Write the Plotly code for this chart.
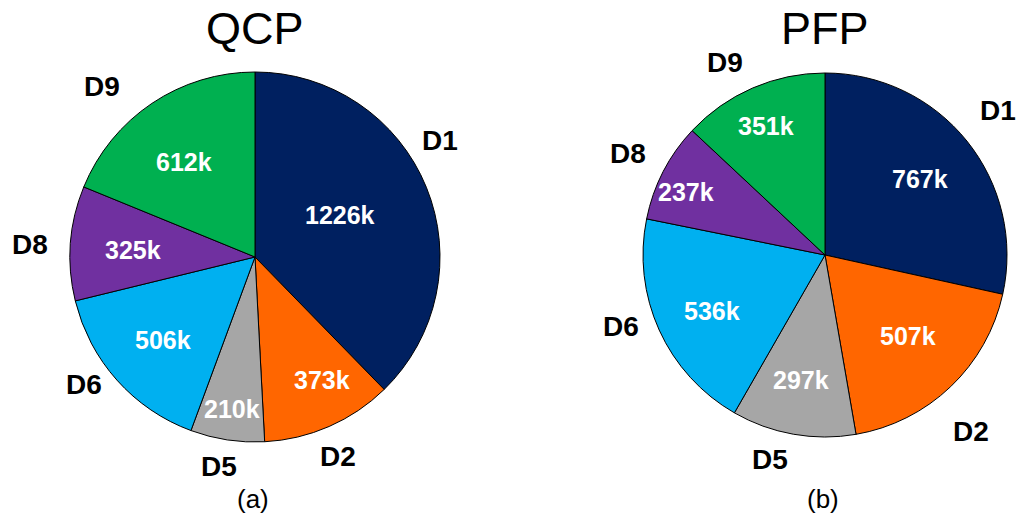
import math
import plotly.graph_objects as go

labels = ["D1", "D2", "D5", "D6", "D8", "D9"]
qcp_values = [1226, 373, 210, 506, 325, 612]
pfp_values = [767, 507, 297, 536, 237, 351]
colors = ["#002060", "#FF6600", "#A6A6A6", "#00B0F0", "#7030A0", "#00B050"]
titles = ["QCP", "PFP"]
captions = ["(a)", "(b)"]

# ---- styling / placement (not data) ----
W, H = 1018, 519
OFF = 0  # page body margin removed by post_script below
FW, FH = W - OFF, H - OFF
FONT = "Liberation Sans, Arial, sans-serif"

# pie geometry in page pixels: (cx, cy, r)
geoms = [(255, 257, 185), (825, 255, 182)]
# outside-label placement: (radius factor, angle offset from slice middle in degrees)
label_place = [
    [(1.18, -10), (1.17, 1), (1.15, 1), (1.15, 5), (1.22, -1), (1.24, -8)],
    [(1.24, -1), (1.26, 4), (1.165, 5), (1.19, 5), (1.22, 0), (1.19, -4)],
]
# inside value placement: (radius factor, angle offset)
value_place = [
    [(0.51, -4), (0.76, -5), (0.83, 0), (0.67, 0), (0.66, -1), (0.64, -3)],
    [(0.67, 0), (0.64, -2), (0.70, 1), (0.69, -2), (0.84, -3), (0.78, -1)],
]


def px2paper(x, y):
    return (x - OFF) / FW, 1 - (y - OFF) / FH


fig = go.Figure()
annotations = []
for i, (vals, (cx, cy, r)) in enumerate(zip([qcp_values, pfp_values], geoms)):
    x0, y1 = px2paper(cx - r, cy - r)
    x1, y0 = px2paper(cx + r, cy + r)
    fig.add_trace(go.Pie(
        labels=labels, values=vals, sort=False, direction="clockwise", rotation=0,
        marker=dict(colors=colors, line=dict(color="black", width=1)),
        textinfo="none",
        domain=dict(x=[x0, x1], y=[y0, y1]), showlegend=False,
        hovertemplate="%{label}: %{value}k<extra></extra>",
    ))
    total = sum(vals)
    cum = 0
    for j, (lab, v) in enumerate(zip(labels, vals)):
        mid = (cum + v / 2) / total * 360
        cum += v
        f, da = label_place[i][j]
        a = math.radians(mid + da)
        ax, ay = px2paper(cx + f * r * math.sin(a), cy - f * r * math.cos(a))
        annotations.append(dict(x=ax, y=ay, xref="paper", yref="paper",
                                text="<b>%s</b>" % lab, showarrow=False,
                                font=dict(family=FONT, size=28, color="black"),
                                xanchor="center", yanchor="middle"))
        f, da = value_place[i][j]
        a = math.radians(mid + da)
        ax, ay = px2paper(cx + f * r * math.sin(a), cy - f * r * math.cos(a))
        annotations.append(dict(x=ax, y=ay, xref="paper", yref="paper",
                                text="<b>%dk</b>" % v, showarrow=False,
                                font=dict(family=FONT, size=25, color="white"),
                                xanchor="center", yanchor="middle"))
    tx, ty = px2paper(cx, 29)
    annotations.append(dict(x=tx, y=ty, xref="paper", yref="paper",
                            text=titles[i], showarrow=False,
                            font=dict(family=FONT, size=45, color="black"),
                            xanchor="center", yanchor="middle"))
    tx, ty = px2paper(cx - 2, 499)
    annotations.append(dict(x=tx, y=ty, xref="paper", yref="paper",
                            text=captions[i], showarrow=False,
                            font=dict(family=FONT, size=26, color="black"),
                            xanchor="center", yanchor="middle"))

fig.update_layout(
    width=FW, height=FH, margin=dict(l=0, r=0, t=0, b=0),
    paper_bgcolor="white", plot_bgcolor="white",
    annotations=annotations,
)
fig.write_html("out.html", config={"displayModeBar": False},
               post_script="document.body.style.margin='0';document.body.style.overflow='hidden';")
